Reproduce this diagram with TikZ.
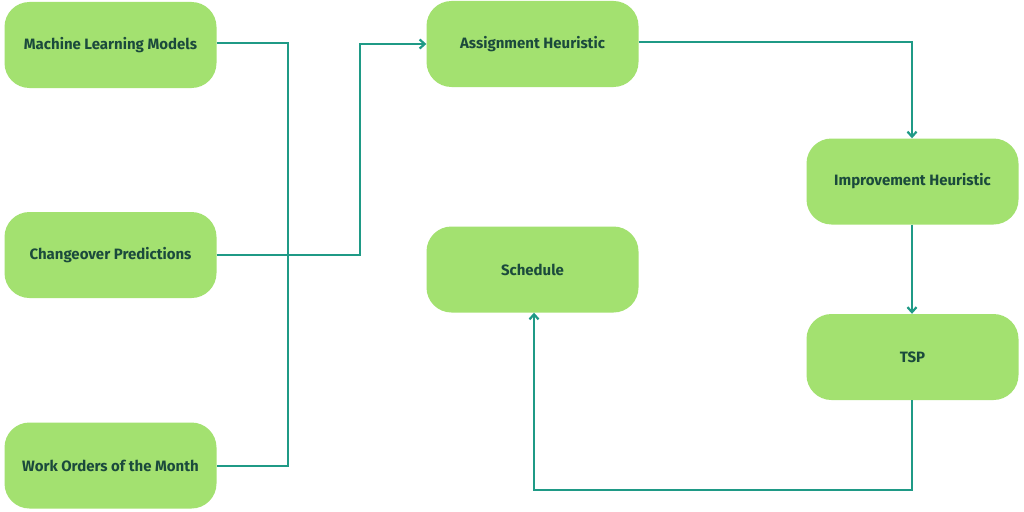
\documentclass[tikz,border=0pt]{standalone}
\usepackage{fontspec}
\setmainfont{Fira Sans}
\usetikzlibrary{arrows.meta}
\definecolor{boxfill}{HTML}{A3E170}
\definecolor{boxtext}{HTML}{1B4A3C}
\definecolor{flow}{HTML}{1F9A86}
\begin{document}
\begin{tikzpicture}[x=1pt,y=-1pt,
  stepbox/.style={rectangle, rounded corners=25pt, fill=boxfill, draw=none,
    minimum width=212pt, minimum height=86pt, inner sep=0pt,
    font=\fontsize{15}{18}\selectfont\bfseries, text=boxtext},
  link/.style={draw=flow, line width=2.6pt},
  arr/.style={link, -{Straight Barb[length=5pt,width=9pt,line width=2.2pt]}}]
\useasboundingbox (0,0) rectangle (1024,511);
\fill[white] (0,0) rectangle (1024,511);

\node[stepbox] (ml)  at (110.5,45)  {Machine Learning Models};
\node[stepbox] (co)  at (110.5,255) {Changeover Predictions};
\node[stepbox] (wo)  at (110.5,465.5) {Work Orders of the Month};
\node[stepbox] (ah)  at (532.5,44)  {Assignment Heuristic};
\node[stepbox] (ih)  at (912.5,181.5) {Improvement Heuristic};
\node[stepbox] (sc)  at (532.5,269.5) {Schedule};
\node[stepbox] (tsp) at (912.5,357) {TSP};

\coordinate (busT) at (288,43);
\coordinate (busB) at (288,466);
\coordinate (co1) at (360,255);
\coordinate (co2) at (360,44);
\coordinate (ahR) at (912,42);
\coordinate (tspB) at (912,490);
\coordinate (scB) at (534,490);

% inputs gathered on a common bus
\draw[link] (ml.east |- busT) -- (busT) -- (busB) -- (wo.east |- busB);
\draw[arr] (co.east |- co1) -- (co1) -- (co2) -- (ah.west |- co2);
% heuristic chain
\draw[arr] (ah.east |- ahR) -- (ahR) -- (ih.north -| ahR);
\draw[arr] (ih.south -| ahR) -- (tsp.north -| ahR);
\draw[arr] (tsp.south -| tspB) -- (tspB) -- (scB) -- (sc.south -| scB);
\end{tikzpicture}
\end{document}
